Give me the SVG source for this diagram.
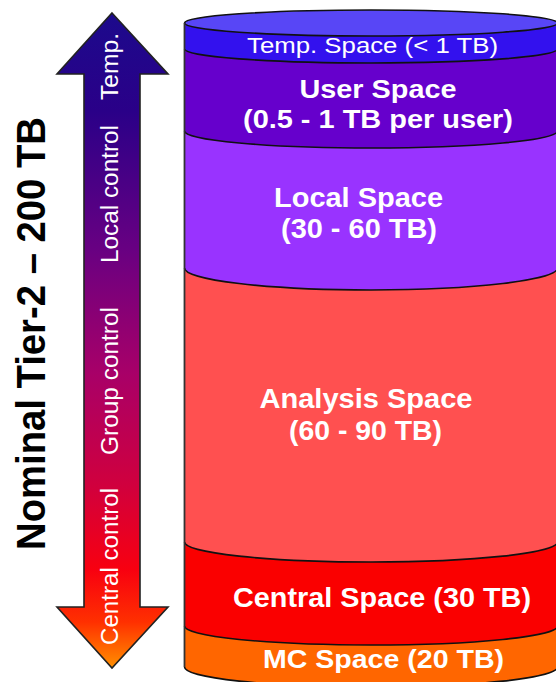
<svg xmlns="http://www.w3.org/2000/svg" width="556" height="682" viewBox="0 0 556 682">
<defs>
<linearGradient id="arrowGrad" x1="0" y1="13" x2="0" y2="668" gradientUnits="userSpaceOnUse">
<stop offset="0" stop-color="#1c0a8c"/>
<stop offset="0.15" stop-color="#2a0088"/>
<stop offset="0.36" stop-color="#680082"/>
<stop offset="0.55" stop-color="#a80068"/>
<stop offset="0.72" stop-color="#d0003e"/>
<stop offset="0.85" stop-color="#f80010"/>
<stop offset="0.93" stop-color="#ff3000"/>
<stop offset="1" stop-color="#ff9000"/>
</linearGradient>
<style>
.arc{fill:none;stroke:#111;stroke-width:1.6}
.side{fill:none;stroke:#333;stroke-width:1.8}
.lbl{font-family:"Liberation Sans",Arial,sans-serif;fill:#fff;text-anchor:middle}
.b{font-weight:bold}
.alb{font-family:"Liberation Sans",Arial,sans-serif;fill:#fff;font-size:23px;text-anchor:middle}
</style>
</defs>
<rect width="556" height="682" fill="#fff"/>

<g id="title">
<text transform="translate(45,333.5) rotate(-90)" x="0" y="0" font-family="Liberation Sans, Arial, sans-serif" font-weight="bold" font-size="41" text-anchor="middle" fill="#000" textLength="433" lengthAdjust="spacingAndGlyphs">Nominal Tier-2 – 200 TB</text>
</g>

<g id="arrow">
<path d="M112,13 L168,74 L140,74 L140,607 L168,607 L112,668 L57,607 L84,607 L84,74 L57,74 Z" fill="url(#arrowGrad)" stroke="#222" stroke-width="1.6" stroke-linejoin="miter"/>
<text class="alb" transform="translate(118,66.5) rotate(-90)" textLength="67" lengthAdjust="spacingAndGlyphs">Temp.</text>
<text class="alb" transform="translate(118,194) rotate(-90)" textLength="138" lengthAdjust="spacingAndGlyphs">Local control</text>
<text class="alb" transform="translate(118,381) rotate(-90)" textLength="148" lengthAdjust="spacingAndGlyphs">Group control</text>
<text class="alb" transform="translate(118,566.5) rotate(-90)" textLength="157" lengthAdjust="spacingAndGlyphs">Central control</text>
</g>

<g id="mc-space">
<path d="M184.5,626 L184.5,667 A186.5,20 0 0 0 557.5,667 L557.5,626 Z" fill="#ff6600"/>
<path class="arc" d="M184.5,667 A186.5,20 0 0 0 557.5,667"/>
<text class="lbl b" x="383.5" y="668" font-size="25" textLength="241" lengthAdjust="spacingAndGlyphs">MC Space (20 TB)</text>
</g>

<g id="central-space">
<path d="M184.5,542 L184.5,626 A186.5,19 0 0 0 557.5,626 L557.5,542 Z" fill="#fa0000"/>
<path class="arc" d="M184.5,626 A186.5,19 0 0 0 557.5,626"/>
<text class="lbl b" x="382" y="607" font-size="28" textLength="298" lengthAdjust="spacingAndGlyphs">Central Space (30 TB)</text>
</g>

<g id="analysis-space">
<path d="M184.5,268 L184.5,542 A186.5,20 0 0 0 557.5,542 L557.5,268 Z" fill="#ff5050"/>
<path class="arc" d="M184.5,542 A186.5,20 0 0 0 557.5,542"/>
<text class="lbl b" x="366" y="408" font-size="28" textLength="213" lengthAdjust="spacingAndGlyphs">Analysis Space</text>
<text class="lbl b" x="365.5" y="440" font-size="28" textLength="153" lengthAdjust="spacingAndGlyphs">(60 - 90 TB)</text>
</g>

<g id="local-space">
<path d="M184.5,131 L184.5,268 A186.5,22 0 0 0 557.5,268 L557.5,131 Z" fill="#9933ff"/>
<path class="arc" d="M184.5,268 A186.5,22 0 0 0 557.5,268"/>
<text class="lbl b" x="358.5" y="207" font-size="28" textLength="169" lengthAdjust="spacingAndGlyphs">Local Space</text>
<text class="lbl b" x="359" y="238" font-size="28" textLength="156" lengthAdjust="spacingAndGlyphs">(30 - 60 TB)</text>
</g>

<g id="user-space">
<path d="M184.5,49 L184.5,131 A186.5,17 0 0 0 557.5,131 L557.5,49 Z" fill="#6600cc"/>
<path class="arc" d="M184.5,131 A186.5,17 0 0 0 557.5,131"/>
<text class="lbl b" x="378" y="98" font-size="25" textLength="157" lengthAdjust="spacingAndGlyphs">User Space</text>
<text class="lbl b" x="378" y="128" font-size="25" textLength="270" lengthAdjust="spacingAndGlyphs">(0.5 - 1 TB per user)</text>
</g>

<g id="temp-space">
<path d="M184.5,23 L184.5,49 A186.5,14 0 0 0 557.5,49 L557.5,23 Z" fill="#3311ee"/>
<path class="arc" d="M184.5,49 A186.5,14 0 0 0 557.5,49"/>
<ellipse cx="371" cy="23" rx="186.5" ry="13" fill="#5846f6" stroke="#111" stroke-width="1.6"/>
<text class="lbl" x="372.5" y="53" font-size="22" textLength="251" lengthAdjust="spacingAndGlyphs">Temp. Space (&lt; 1 TB)</text>
</g>

<g id="cylinder-sides">
<line class="side" x1="184.5" y1="23" x2="184.5" y2="667"/>
<line class="side" x1="557.5" y1="23" x2="557.5" y2="667"/>
</g>
</svg>
